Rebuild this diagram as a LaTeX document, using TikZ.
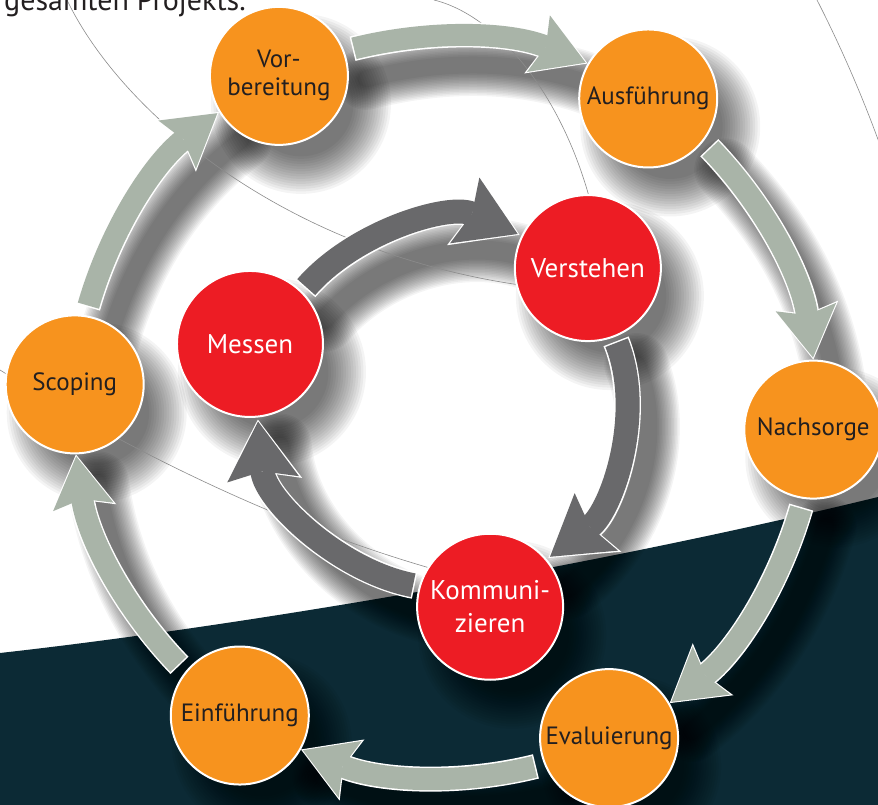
\documentclass[tikz,border=0pt]{standalone}
\usepackage{fontspec}
\setmainfont{PT Sans}
\usetikzlibrary{arrows.meta}

\definecolor{phaseorange}{HTML}{F7931E}
\definecolor{corered}{HTML}{ED1C24}
\definecolor{ringgreen}{HTML}{A9B4A8}
\definecolor{coregrey}{HTML}{69696B}
\definecolor{deepteal}{HTML}{0C2A35}
\definecolor{ink}{HTML}{231F20}

\pgfdeclarelayer{bg}
\pgfdeclarelayer{shade}
\pgfdeclarelayer{links}
\pgfsetlayers{bg,shade,links,main}

\tikzset{
    phase/.style={circle, draw=white, line width=2pt, fill=phaseorange, minimum size=138pt,
        inner sep=0pt, text=ink, align=center, font=\fontsize{25}{28}\selectfont},
    core/.style={circle, draw=white, line width=2pt, fill=corered, minimum size=146pt,
        inner sep=0pt, text=white, align=center, font=\fontsize{27}{33}\selectfont},
    ringedge/.style={draw=white, line width=25pt, shorten <=8.5pt,
        -{Stealth[length=55pt, width=66pt, inset=9pt, line width=0pt]}},
    ringarrow/.style={draw=ringgreen, line width=22pt, shorten <=10pt, shorten >=2pt,
        -{Stealth[length=51pt, width=61pt, inset=8pt, line width=0pt]}},
    coreedge/.style={draw=white, line width=27pt, shorten <=4.5pt, shorten >=2pt,
        -{Stealth[length=62pt, width=78pt, inset=9pt, line width=0pt]}},
    corearrow/.style={draw=coregrey, line width=24pt, shorten <=6pt, shorten >=4pt,
        -{Stealth[length=58pt, width=72pt, inset=8pt, line width=0pt]}},
    softshade/.style={black, opacity=0.042, line cap=round},
    guide/.style={draw=black!45, line width=0.6pt}
}

\begin{document}
\begin{tikzpicture}[x=1pt, y=1pt]
    \useasboundingbox (0,0) rectangle (878,-805);

    % outer ring: project phases, inner ring: core loop
    \begin{scope}[shift={(444,-407)}]
        \node (vorb) [phase] at (116.5:370) {Vor-\\bereitung};
        \node (ausf) [phase] at (56.5:370) {Ausführung};
        \node (nach) [phase] at (-3.5:370) {Nachsorge};
        \node (eval) [phase] at (-63.5:370) {Evaluierung};
        \node (einf) [phase] at (-123.5:370) {Einführung};
        \node (scop) [phase] at (176.5:370) {Scoping};

        \node (mess) [core] at (162:204) {Messen};
        \node (vers) [core] at (44:200) {Verstehen};
        \node (komm) [core] at (-77:205) {Kommuni-\\zieren};
    \end{scope}

    \node (title) [anchor=base west, inner sep=0pt, text=ink, font=\fontsize{30}{36}\selectfont]
        at (4,-11) {gesamten Projekts.};

    \begin{pgfonlayer}{bg}
        \fill[white] (0,0) rectangle (878,-805);
        \fill[deepteal] (0,-653) .. controls (250,-625) and (600,-565) .. (878,-497)
            -- (878,-805) -- (0,-805) -- cycle;
    \end{pgfonlayer}

    % soft shadows
    \begin{pgfonlayer}{shade}
    \begin{scope}[transform canvas={shift={(22pt,-28pt)}}]
        \foreach \k in {0,...,15} {
            \foreach \nd/\rad in {vorb/70, ausf/70, nach/70, eval/70, einf/70, scop/70,
                                  mess/74, vers/74, komm/74}
                \fill[softshade] (\nd) circle[radius=\rad+20-2.5*\k];
            \foreach \src/\sa/\lv/\en/\dst/\da in {vorb/21.5/14/158/ausf/150.5,
                    ausf/-38.5/-46/98/nach/90.5, nach/-98.5/-106/38/eval/30.5,
                    eval/-158.5/-166/-22/einf/-29.5, einf/141.5/134/-82/scop/-89.5,
                    scop/81.5/74/-142/vorb/-149.5}
                \draw[softshade, line width=62-3*\k] (\src.\sa) to[out=\lv, in=\en, looseness=0.9] (\dst.\da);
            \foreach \src/\sa/\lv/\en/\dst/\da in {mess/45/49/156/vers/154,
                    vers/-69/-68/37/komm/40, komm/164/169/-85/mess/-84}
                \draw[softshade, line width=64-3*\k] (\src.\sa) to[out=\lv, in=\en, looseness=0.9] (\dst.\da);
        }
    \end{scope}
    \end{pgfonlayer}

    \begin{pgfonlayer}{links}
        \draw[guide] (67,0) .. controls (120,-110) and (280,-250) .. (520,-285);
        \draw[guide] (434,0) .. controls (495,-15) and (560,-90) .. (590,-200);
        \draw[guide] (817,0) .. controls (840,-45) and (862,-95) .. (880,-145);
        \draw[guide] (0,-370) .. controls (120,-445) and (300,-540) .. (495,-585);

        \foreach \src/\sa/\lv/\en/\dst/\da in {vorb/21.5/14/158/ausf/150.5,
                ausf/-38.5/-46/98/nach/90.5, nach/-98.5/-106/38/eval/30.5,
                eval/-158.5/-166/-22/einf/-29.5, einf/141.5/134/-82/scop/-89.5,
                scop/81.5/74/-142/vorb/-149.5} {
            \draw[ringedge] (\src.\sa) to[out=\lv, in=\en, looseness=0.9] (\dst.\da);
            \draw[ringarrow] (\src.\sa) to[out=\lv, in=\en, looseness=0.9] (\dst.\da);
        }
        \foreach \src/\sa/\lv/\en/\dst/\da in {mess/45/49/156/vers/154,
                vers/-69/-68/37/komm/40, komm/164/169/-85/mess/-84} {
            \draw[coreedge] (\src.\sa) to[out=\lv, in=\en, looseness=0.9] (\dst.\da);
            \draw[corearrow] (\src.\sa) to[out=\lv, in=\en, looseness=0.9] (\dst.\da);
        }
    \end{pgfonlayer}
\end{tikzpicture}
\end{document}
